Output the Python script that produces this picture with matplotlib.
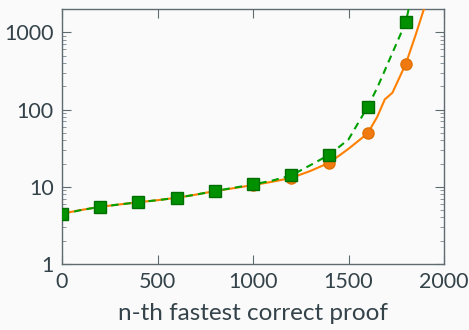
import matplotlib.pyplot as plt
import numpy as np

plt.rcParams["font.family"] = ["Lato", "DejaVu Sans"]

# orange solid curve
x_orange = [0, 100, 200, 300, 400, 500, 600, 700, 800, 900, 1000, 1100, 1200,
            1300, 1400, 1500, 1600, 1650, 1690, 1730, 1800, 1850, 1895]
y_orange = [4.5, 5.0, 5.5, 5.9, 6.3, 6.7, 7.2, 7.9, 8.8, 9.6, 10.5, 11.6, 13,
            16, 20.5, 31, 49, 80, 135, 165, 390, 900, 2000]

# green dashed curve
x_green = [0, 100, 200, 300, 400, 500, 600, 700, 800, 900, 1000, 1100, 1200,
           1300, 1400, 1500, 1600, 1650, 1800, 1815]
y_green = [4.4, 5.0, 5.5, 5.9, 6.3, 6.7, 7.2, 7.9, 8.8, 9.7, 10.7, 12.0, 14,
           19, 26, 41, 108, 190, 1350, 2000]

xticks = [0, 500, 1000, 1500, 2000]
yticks = [1, 10, 100, 1000]
ytick_labels = ["1", "10", "100", "1000"]

txt = "#34434a"
spine = "#5f6b70"
bg = "#fafafa"

fig = plt.figure(figsize=(4.69, 3.3), dpi=100, facecolor=bg)
ax = fig.add_axes([0.1322, 0.2, 0.8145, 0.7727], facecolor=bg)

mk_o = [i for i, x in enumerate(x_orange) if x % 200 == 0 and x <= 1800]
mk_g = [i for i, x in enumerate(x_green) if x % 200 == 0 and x <= 1800]

ax.plot(x_orange, y_orange, color="#ff8000", lw=1.5, marker="o", ms=8,
        mfc="#f07a10", mec="#e07000", markevery=mk_o, zorder=3)
ax.plot(x_green, y_green, color="#00a000", lw=1.5, ls=(0, (3.5, 2.5)), marker="s",
        ms=8.5, mfc="#009000", mec="#006f00", markevery=mk_g, zorder=4)

ax.set_yscale("log")
ax.set_xlim(0, 2000)
ax.set_ylim(1, 2000)
ax.set_xticks(xticks)
ax.set_yticks(yticks)
ax.set_yticklabels(ytick_labels)
ax.tick_params(which="both", direction="in", top=True, right=True,
               color=spine, labelcolor=txt, labelsize=15.5)
ax.tick_params(which="major", length=6.5, width=0.8, pad=6)
ax.tick_params(which="minor", length=3.2, width=0.7, color="#8a9498")
ax.tick_params(axis="x", which="minor", top=False, bottom=False)
for s in ax.spines.values():
    s.set_color(spine)
    s.set_linewidth(1.0)

ax.set_xlabel("n-th fastest correct proof", fontsize=17.5, color=txt, labelpad=8)

fig.savefig("out.png", dpi=100, facecolor=bg)
